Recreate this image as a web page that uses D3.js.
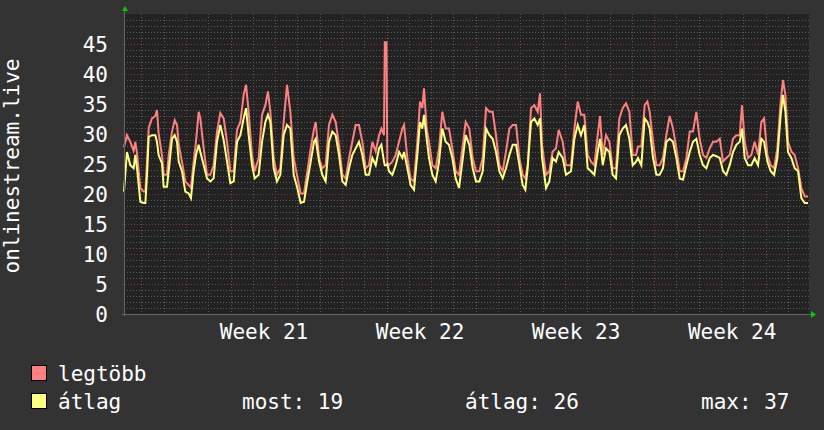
<!DOCTYPE html>
<html>
<head>
<meta charset="utf-8">
<script src="https://cdn.jsdelivr.net/npm/d3@7"></script>
<style>
  html, body { margin: 0; padding: 0; background: #333333; }
  svg text { font-family: "DejaVu Sans Mono", monospace; fill: #ffffff; }
</style>
</head>
<body>
<div id="chart"></div>
<script>
// hours since the start of the graph (Fri 19 May 2023, 05:15)
var hours = [0, 3.2, 6.8, 10.4, 12.2, 14.0, 17.6, 21.2, 23.0, 24.8, 26.6, 30.1, 33.7, 35.5, 37.3, 40.9, 42.7, 46.3, 48.1, 51.7,
    54.6, 57.1, 58.9, 62.4, 66.0, 69.6, 72.1, 75.0, 77.5, 80.4, 82.2, 85.8, 89.4, 93.0, 96.5, 100.1, 103.7, 107.3, 110.9, 114.5,
    118.1, 121.7, 125.3, 128.8, 131.4, 134.2, 137.8, 140.7, 145.0, 148.6, 152.2, 155.0, 157.6, 161.1, 164.7, 168.3, 171.9, 175.5, 179.1, 182.7,
    186.6, 190.2, 193.8, 197.4, 201.0, 204.6, 206.4, 210.0, 213.5, 217.1, 220.7, 224.3, 227.9, 231.5, 235.1, 238.7, 242.3, 245.8, 249.4, 253.0,
    256.6, 260.2, 263.8, 267.4, 271.0, 274.6, 277.1, 279.9, 280.8, 282.6, 283.5, 285.3, 288.9, 292.5, 296.1, 299.7, 301.5, 305.1, 308.6, 312.2,
    315.8, 318.7, 321.2, 323.0, 325.9, 328.4, 332.0, 335.6, 339.2, 342.7, 346.3, 349.9, 353.5, 357.1, 360.7, 364.3, 367.9,
    371.8, 375.4, 379.0, 382.6, 386.2, 389.8, 393.4, 396.9, 400.5, 404.1, 407.7, 411.3, 414.9, 418.5, 422.1, 425.7, 429.2, 432.1, 434.6,
    438.2, 441.8, 445.4, 447.9, 450.1, 454.4, 457.9, 461.5, 465.1, 468.0, 472.3, 475.9, 481.3, 484.9, 488.5, 492.0, 495.6, 499.2, 502.8, 506.4,
    510.0, 512.5, 515.4, 519.0, 522.6, 526.1, 529.7, 533.3, 536.9, 540.5, 544.1, 547.7, 551.3,
    553.4, 557.0, 560.6, 563.5, 566.0, 569.6, 573.2, 576.7, 580.3, 583.9, 587.5, 591.1, 594.7, 598.3, 601.9, 605.5, 609.1, 612.6, 616.2, 619.8,
    623.4, 627.0, 630.6, 634.2, 637.8, 641.4, 645.0, 648.5, 652.1, 655.7, 659.3, 662.9, 665.4, 668.3, 671.9, 675.4, 679.0, 682.6, 686.2, 689.1,
    692.7, 696.3, 699.9, 703.4, 707.0, 709.5, 712.1, 714.9, 718.5, 722.1, 725.7, 729.3, 732.9, 736.5];

var maxValues = [27.8, 29.8, 28.7, 27.2, 28.7, 26.8, 21.0, 20.4, 20.4, 25.4, 31.0, 32.6, 33.0, 34.0, 30.1, 26.5, 23.2, 23.2, 26.5, 30.4,
    32.3, 31.5, 28.2, 25.4, 22.1, 21.5, 21.0, 25.4, 28.7, 33.7, 32.6, 27.6, 23.2, 23.2, 24.8, 30.4, 33.5, 32.6, 28.7, 23.8,
    23.8, 30.7, 32.0, 36.5, 38.2, 33.7, 26.5, 23.8, 26.0, 33.2, 34.8, 37.1, 33.7, 26.0, 23.2, 24.3, 32.0, 38.2, 33.7, 26.0,
    22.9, 20.1, 20.1, 23.8, 27.6, 30.9, 32.0, 26.0, 24.3, 24.8, 31.5, 33.2, 32.0, 28.2, 23.2, 22.6, 26.0, 28.7, 31.5, 31.5,
    28.7, 24.3, 24.8, 28.7, 27.1, 29.8, 30.9, 29.8, 45.3, 45.3, 25.2, 24.8, 25.4, 26.5, 28.7, 30.9, 31.5, 26.0, 22.6, 22.1,
    28.7, 35.4, 34.3, 37.6, 30.9, 28.7, 24.8, 24.3, 27.6, 33.7, 30.9, 30.9, 27.6, 23.8, 23.2, 27.6, 32.0,
    30.9, 26.0, 23.8, 23.8, 26.0, 34.3, 33.7, 33.7, 29.8, 24.8, 23.8, 27.1, 30.9, 31.5, 31.5, 26.0, 23.2, 22.6, 24.8,
    34.3, 34.8, 33.7, 36.8, 28.2, 23.2, 23.8, 27.1, 27.6, 30.7, 28.7, 24.8, 24.8, 30.9, 35.4, 33.2, 33.2, 26.5, 25.4, 24.8,
    29.8, 33.0, 26.5, 29.8, 28.7, 24.3, 24.3, 32.6, 34.3, 35.1, 33.7, 26.5, 26.5,
    27.9, 27.9, 34.8, 35.4, 33.7, 28.7, 24.8, 24.8, 26.0, 29.8, 33.0, 30.9, 27.6, 23.8, 23.8, 26.0, 30.4, 30.4, 33.7, 29.2,
    26.5, 26.0, 27.6, 28.7, 28.7, 29.2, 25.4, 26.0, 26.5, 29.2, 29.8, 29.8, 34.8, 28.7, 26.0, 26.5, 28.7, 26.5, 32.0, 32.6,
    26.5, 24.8, 24.3, 27.6, 35.4, 39.0, 36.5, 28.7, 27.1, 26.5, 24.3, 21.0, 19.6, 19.6];

var avgValues = [20.4, 27.0, 24.8, 24.3, 26.5, 24.3, 18.7, 18.5, 18.5, 23.2, 29.5, 29.8, 29.8, 28.7, 26.5, 25.1, 21.2, 21.2, 23.8, 29.2,
    29.8, 28.7, 25.4, 23.8, 20.4, 20.1, 19.3, 23.8, 26.5, 28.2, 27.0, 24.8, 22.6, 22.1, 22.6, 28.7, 31.5, 29.0, 25.4, 21.8,
    22.1, 28.7, 29.8, 32.6, 34.3, 29.8, 24.8, 22.6, 23.2, 28.7, 32.0, 33.2, 32.0, 24.3, 22.1, 23.2, 29.8, 31.5, 30.9, 23.2,
    21.0, 18.5, 18.7, 22.1, 25.4, 28.7, 29.2, 25.4, 23.2, 22.1, 28.7, 30.4, 29.8, 26.5, 22.1, 21.5, 24.3, 26.5, 27.6, 28.7,
    26.5, 23.2, 23.2, 26.0, 24.8, 27.6, 28.2, 25.4, 24.8, 24.8, 25.0, 23.8, 23.2, 24.8, 27.0, 26.0, 27.0, 24.3, 21.5, 20.7,
    26.5, 32.0, 30.9, 33.2, 29.2, 26.0, 23.2, 22.1, 25.4, 30.9, 28.7, 28.2, 26.0, 22.6, 21.0, 25.4, 29.8,
    28.2, 24.3, 22.1, 22.1, 23.8, 30.9, 29.8, 29.2, 27.0, 23.8, 22.6, 24.3, 26.5, 28.2, 28.2, 24.8, 21.5, 20.7, 24.3,
    32.0, 32.6, 31.5, 32.6, 26.0, 21.0, 22.1, 26.0, 25.4, 27.0, 26.0, 23.2, 23.8, 29.2, 31.5, 29.8, 31.5, 24.3, 23.8, 23.2,
    27.0, 29.2, 24.8, 27.6, 27.0, 23.2, 22.6, 29.8, 30.9, 31.5, 29.2, 24.8, 25.4,
    26.0, 24.8, 32.6, 32.0, 30.9, 26.0, 23.2, 23.2, 24.3, 28.7, 29.2, 28.7, 26.0, 22.6, 22.4, 24.8, 27.0, 28.7, 29.2, 26.5,
    24.8, 24.3, 26.0, 26.5, 26.3, 26.0, 23.8, 23.2, 24.8, 27.0, 28.2, 28.7, 30.9, 26.0, 24.8, 24.8, 26.0, 24.8, 29.2, 28.7,
    25.4, 23.8, 23.2, 26.0, 33.2, 36.5, 33.7, 27.0, 26.0, 24.3, 23.8, 19.3, 18.5, 18.5];

var yTicks = [0, 5, 10, 15, 20, 25, 30, 35, 40, 45];
var seriesNames = ["legtöbb", "átlag"];
var seriesColors = ["#ff8080", "#ffff80"];
var statLabels = ["most: 19", "átlag: 26", "max: 37"];
var yLabel = "onlinestream.live";

var startTime = new Date(2023, 4, 19, 5, 15);
var totalHours = 737.5;
var hourMs = 3600 * 1000;

var width = 824, height = 430;
var plot = { left: 124, right: 809, top: 14, bottom: 314 };

var svg = d3.select("#chart").append("svg")
    .attr("width", width)
    .attr("height", height);

svg.append("rect")
    .attr("width", width)
    .attr("height", height)
    .attr("fill", "#333333");

var x = d3.scaleTime()
    .domain([startTime, new Date(+startTime + totalHours * hourMs)])
    .range([plot.left, plot.right]);

var y = d3.scaleLinear()
    .domain([0, 50])
    .range([plot.bottom, plot.top]);

svg.append("rect")
    .attr("x", plot.left)
    .attr("y", plot.top)
    .attr("width", plot.right - plot.left)
    .attr("height", plot.bottom - plot.top)
    .attr("fill", "#222222");

// grid
var grid = svg.append("g").attr("class", "grid");
var minorY = d3.range(1, 50).filter(function(v) { return v % 5 !== 0; });
var majorY = yTicks.filter(function(v) { return v > 0; });

grid.selectAll(".minor-y")
    .data(minorY)
    .enter().append("line")
    .attr("x1", plot.left).attr("x2", plot.right + 2)
    .attr("y1", function(d) { return Math.round(y(d)) + 0.5; })
    .attr("y2", function(d) { return Math.round(y(d)) + 0.5; })
    .attr("stroke", "#5a5a5a")
    .attr("stroke-dasharray", "1,2");

var days = d3.timeDay.range(x.domain()[0], x.domain()[1]);
var weeks = d3.timeMonday.range(x.domain()[0], x.domain()[1]);

grid.selectAll(".minor-x")
    .data(days.filter(function(d) { return d.getDay() !== 1; }))
    .enter().append("line")
    .attr("x1", function(d) { return Math.round(x(d)) + 0.5; })
    .attr("x2", function(d) { return Math.round(x(d)) + 0.5; })
    .attr("y1", plot.top).attr("y2", plot.bottom + 2)
    .attr("stroke", "#5a5a5a")
    .attr("stroke-dasharray", "1,2");

grid.selectAll(".major-y")
    .data(majorY)
    .enter().append("line")
    .attr("x1", plot.left - 2).attr("x2", plot.right + 2)
    .attr("y1", function(d) { return Math.round(y(d)) + 0.5; })
    .attr("y2", function(d) { return Math.round(y(d)) + 0.5; })
    .attr("stroke", "#7a3a3a")
    .attr("stroke-dasharray", "1,2");

grid.selectAll(".major-x")
    .data(weeks)
    .enter().append("line")
    .attr("x1", function(d) { return Math.round(x(d)) + 0.5; })
    .attr("x2", function(d) { return Math.round(x(d)) + 0.5; })
    .attr("y1", plot.top).attr("y2", plot.bottom + 2)
    .attr("stroke", "#7a3a3a")
    .attr("stroke-dasharray", "1,2");

// series
var maxData = hours.map(function(h, i) { return { t: new Date(+startTime + h * hourMs), v: maxValues[i] }; });
var avgData = hours.map(function(h, i) { return { t: new Date(+startTime + h * hourMs), v: avgValues[i] }; });

var line = d3.line()
    .x(function(d) { return x(d.t); })
    .y(function(d) { return y(d.v); });

svg.append("path")
    .datum(maxData)
    .attr("d", line)
    .attr("fill", "none")
    .attr("stroke", seriesColors[0])
    .attr("stroke-width", 2);

svg.append("path")
    .datum(avgData)
    .attr("d", line)
    .attr("fill", "none")
    .attr("stroke", seriesColors[1])
    .attr("stroke-width", 2);

// axes
svg.append("line")
    .attr("x1", plot.left - 2).attr("x2", plot.right + 4)
    .attr("y1", plot.bottom + 0.5).attr("y2", plot.bottom + 0.5)
    .attr("stroke", "#666666");
svg.append("line")
    .attr("x1", plot.left + 0.5).attr("x2", plot.left + 0.5)
    .attr("y1", plot.top - 4).attr("y2", plot.bottom + 2)
    .attr("stroke", "#666666");

svg.append("path")
    .attr("d", "M" + (plot.left - 2) + "," + (plot.top - 3) + "L" + (plot.left + 1) + "," + (plot.top - 8) + "L" + (plot.left + 4) + "," + (plot.top - 3) + "Z")
    .attr("fill", "#00cc00");
svg.append("path")
    .attr("d", "M" + (plot.right + 2) + "," + (plot.bottom - 3) + "L" + (plot.right + 7) + "," + (plot.bottom + 0.5) + "L" + (plot.right + 2) + "," + (plot.bottom + 4) + "Z")
    .attr("fill", "#00cc00");

svg.selectAll(".y-label")
    .data(yTicks)
    .enter().append("text")
    .attr("class", "y-label")
    .attr("x", plot.left - 16)
    .attr("y", function(d) { return y(d); })
    .attr("dy", "0.36em")
    .attr("text-anchor", "end")
    .style("font-size", "21px")
    .text(function(d) { return d; });

svg.selectAll(".x-label")
    .data(weeks)
    .enter().append("text")
    .attr("class", "x-label")
    .attr("x", function(d) { return x(d3.timeHour.offset(d, 84)); })
    .attr("y", 339)
    .attr("text-anchor", "middle")
    .style("font-size", "21px")
    .text(function(d) { return "Week " + d3.timeFormat("%V")(d); });

svg.append("text")
    .attr("transform", "translate(19," + ((plot.top + plot.bottom) / 2 + 2) + ") rotate(-90)")
    .attr("text-anchor", "middle")
    .style("font-size", "21px")
    .text(yLabel);

// legend
var legend = svg.append("g").attr("class", "legend");
seriesNames.forEach(function(name, i) {
    var ly = 381 + i * 28;
    legend.append("rect")
        .attr("x", 31.5).attr("y", ly - 15.5)
        .attr("width", 15).attr("height", 15)
        .attr("fill", seriesColors[i])
        .attr("stroke", "#000000");
    legend.append("text")
        .attr("x", 58).attr("y", ly)
        .style("font-size", "21px")
        .text(name);
});

var statX = [242, 465, 701];
statLabels.forEach(function(s, i) {
    legend.append("text")
        .attr("x", statX[i]).attr("y", 409)
        .style("font-size", "21px")
        .text(s);
});
</script>
</body>
</html>
